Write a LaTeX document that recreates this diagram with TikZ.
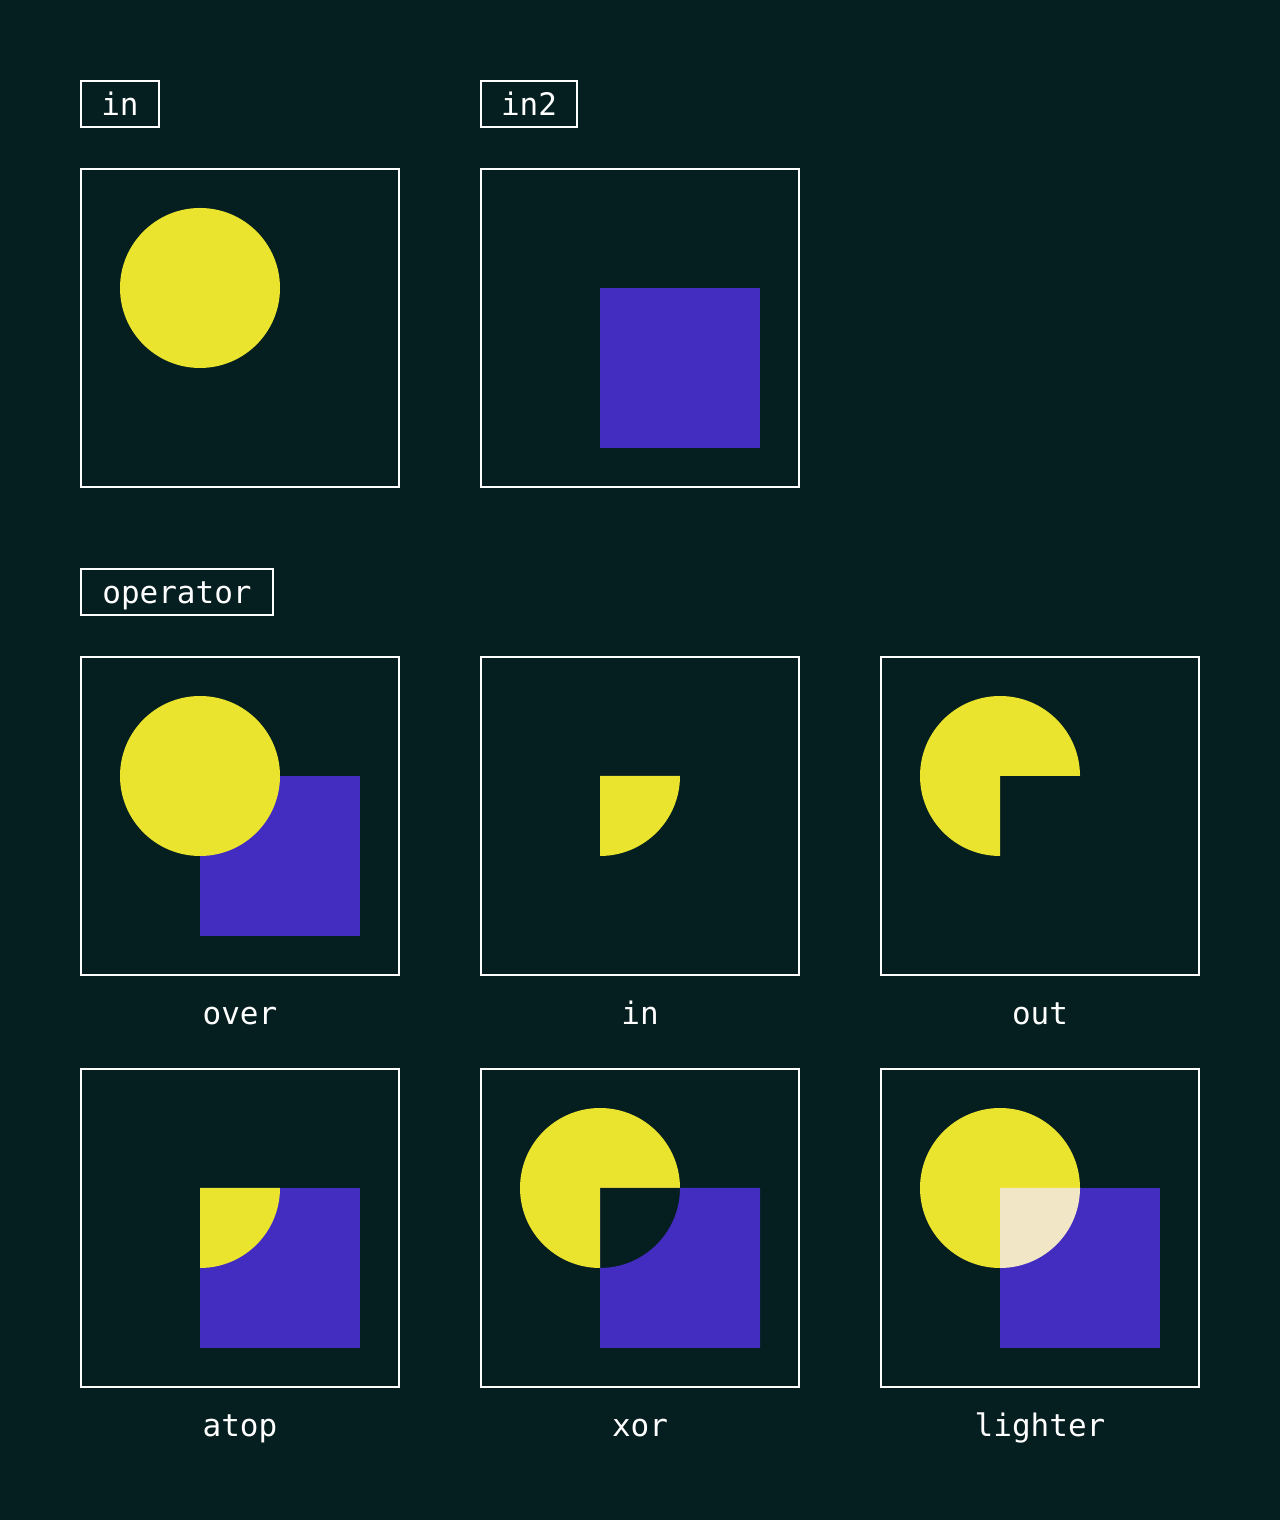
\documentclass[tikz,border=0pt]{standalone}
\usepackage{fontspec}
\setmonofont{DejaVu Sans Mono}
\usetikzlibrary{calc}
\definecolor{bg}{HTML}{051E1F}
\definecolor{yel}{HTML}{EBE42E}
\definecolor{blu}{HTML}{432CC0}
\definecolor{lite}{HTML}{F1E6C6}
\tikzset{
  panel/.style={draw=white, line width=2pt, minimum width=318pt, minimum height=318pt, inner sep=0pt},
  tagbox/.style={draw=white, line width=2pt, minimum height=46pt, inner sep=0pt, text height=23pt, text depth=0pt, text=white, font=\fontsize{31}{31}\selectfont\ttfamily},
  caption/.style={anchor=base, text=white, inner sep=0pt, font=\fontsize{31}{31}\selectfont\ttfamily}
}
\begin{document}
\begin{tikzpicture}[x=1pt,y=1pt]
\fill[bg] (0,0) rectangle (1280,1520);
\useasboundingbox (0,0) rectangle (1280,1520);
% tags
\node[tagbox, minimum width=78pt] (tin) at (120,1416) {in};
\node[tagbox, minimum width=96pt] (tin2) at (529,1416) {in2};
\node[tagbox, minimum width=192pt] (top) at (177,928) {operator};
% panels
\node[panel] (pin) at (240,1192) {};
\node[panel] (pin2) at (640,1192) {};
\node[panel] (pover) at (240,704) {};
\node[panel] (pinop) at (640,704) {};
\node[panel] (pout) at (1040,704) {};
\node[panel] (patop) at (240,292) {};
\node[panel] (pxor) at (640,292) {};
\node[panel] (plight) at (1040,292) {};
% in
\fill[yel] ($(pin.center)+(-40,40)$) circle[radius=80];
% in2
\fill[blu] ($(pin2.center)+(-40,40)$) rectangle ++(160,-160);
% over
\fill[blu] ($(pover.center)+(-40,40)$) rectangle ++(160,-160);
\fill[yel] ($(pover.center)+(-40,40)$) circle[radius=80];
% in operator
\fill[yel] ($(pinop.center)+(-40,40)$) -- ++(0,-80) arc[start angle=270, end angle=360, radius=80] -- cycle;
% out
\fill[yel] ($(pout.center)+(-40,40)$) -- ++(80,0) arc[start angle=0, end angle=270, radius=80] -- cycle;
% atop
\fill[blu] ($(patop.center)+(-40,40)$) rectangle ++(160,-160);
\fill[yel] ($(patop.center)+(-40,40)$) -- ++(0,-80) arc[start angle=270, end angle=360, radius=80] -- cycle;
% xor
\fill[yel] ($(pxor.center)+(-40,40)$) -- ++(80,0) arc[start angle=0, end angle=270, radius=80] -- cycle;
\fill[blu, even odd rule] ($(pxor.center)+(-40,40)$) rectangle ++(160,-160)
  ($(pxor.center)+(-40,40)$) -- ++(0,-80) arc[start angle=270, end angle=360, radius=80] -- cycle;
% lighter
\fill[yel] ($(plight.center)+(-40,40)$) circle[radius=80];
\fill[blu] ($(plight.center)+(-40,40)$) rectangle ++(160,-160);
\fill[lite] ($(plight.center)+(-40,40)$) -- ++(0,-80) arc[start angle=270, end angle=360, radius=80] -- cycle;
% captions
\node[caption] (cover) at (240,495) {over};
\node[caption] (cin) at (640,495) {in};
\node[caption] (cout) at (1040,495) {out};
\node[caption] (catop) at (240,83) {atop};
\node[caption] (cxor) at (640,83) {xor};
\node[caption] (clight) at (1040,83) {lighter};
\end{tikzpicture}
\end{document}
